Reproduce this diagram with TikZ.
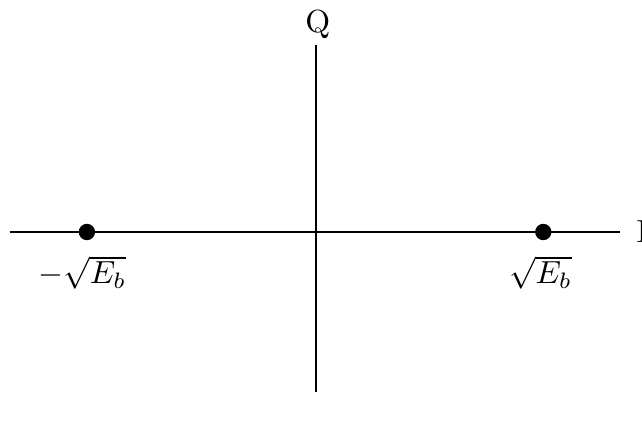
\documentclass[tikz,border=0pt]{standalone}
\usepackage{amsmath,amssymb}
\usepackage{tikz}
\usetikzlibrary{positioning}

\begin{document}
\begin{tikzpicture}[
        axis/.style={line width=0.6pt, draw=black},
        symbol/.style={
            circle,
            fill=black,
            inner sep=0pt,
            minimum size=0.18cm
        },
        axislabel/.style={inner sep=0pt},
        symlabel/.style={inner sep=0pt}
    ]
        \useasboundingbox (-3.476,-2.079) rectangle (3.586,2.552);

        % axes
        \coordinate (iwest) at (-3.37,0);
        \coordinate (ieast) at (3.34,0);
        \coordinate (qnorth) at (0,2.06);
        \coordinate (qsouth) at (0,-1.76);
        \draw[axis] (iwest) -- (ieast);
        \draw[axis] (qsouth) -- (qnorth);

        \node[axislabel, anchor=west] (ilabel) at (3.52,0) {I};
        \node[axislabel, anchor=base] (qlabel) at (0.02,2.19) {Q};

        % constellation points
        \node[symbol] (mdot) at (-2.52,0) {};
        \node[symbol] (pdot) at (2.50,0) {};
        \node[symlabel, below=0.16cm of mdot, xshift=-0.05cm] (mlabel) {$-\sqrt{E_b}$};
        \node[symlabel, below=0.16cm of pdot, xshift=-0.03cm] (plabel) {$\sqrt{E_b}$};
    \end{tikzpicture}
\end{document}
